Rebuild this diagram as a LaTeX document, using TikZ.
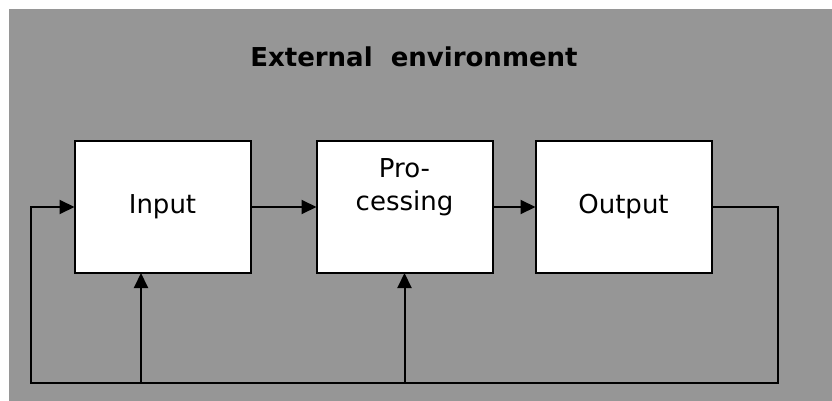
\documentclass[tikz,border=0pt]{standalone}
\usepackage{fontspec}
\setmainfont{DejaVu Sans}
\usetikzlibrary{arrows.meta, positioning}
\definecolor{envgray}{RGB}{150,150,150}

\begin{document}
\begin{tikzpicture}[
x=1pt, y=-1pt,
node distance=66pt,
every node/.style={font=\fontsize{26}{33}\selectfont},
block/.style={
    rectangle,
    draw=black,
    fill=white,
    line width=2pt,
    minimum width=176pt,
    minimum height=132pt,
    align=center,
    outer sep=0pt
},
arrow/.style={
    -{Triangle[length=15pt,width=14pt]},
    line width=2pt
}
]

\useasboundingbox (0,0) rectangle (832,401);
\fill[envgray] (9,9) rectangle (832,401);

\node (env) at (414,57) {\bfseries External\ \ environment};

\node (input) [block] at (162.5,207) {Input};

\node (proc) [block, right=of input] {};
\node (proclabel) [anchor=base, align=center] at ([yshift=-3pt]proc.center) {Pro-\\cessing};

\node (output) [block, right=43pt of proc] {Output};

\coordinate (loopright) at (778,383);
\coordinate (loopleft) at (31,383);
\coordinate (tapin) at (141,383);
\coordinate (tapproc) at (proc.south |- loopleft);

\draw [arrow] (input) -- (proc);
\draw [arrow] (proc) -- (output);
\draw [arrow] (output.east) -| (loopright) -- (loopleft) |- (input.west);
\draw [arrow] (tapin) -- (tapin |- input.south);
\draw [arrow] (tapproc) -- (proc.south);

\end{tikzpicture}
\end{document}
